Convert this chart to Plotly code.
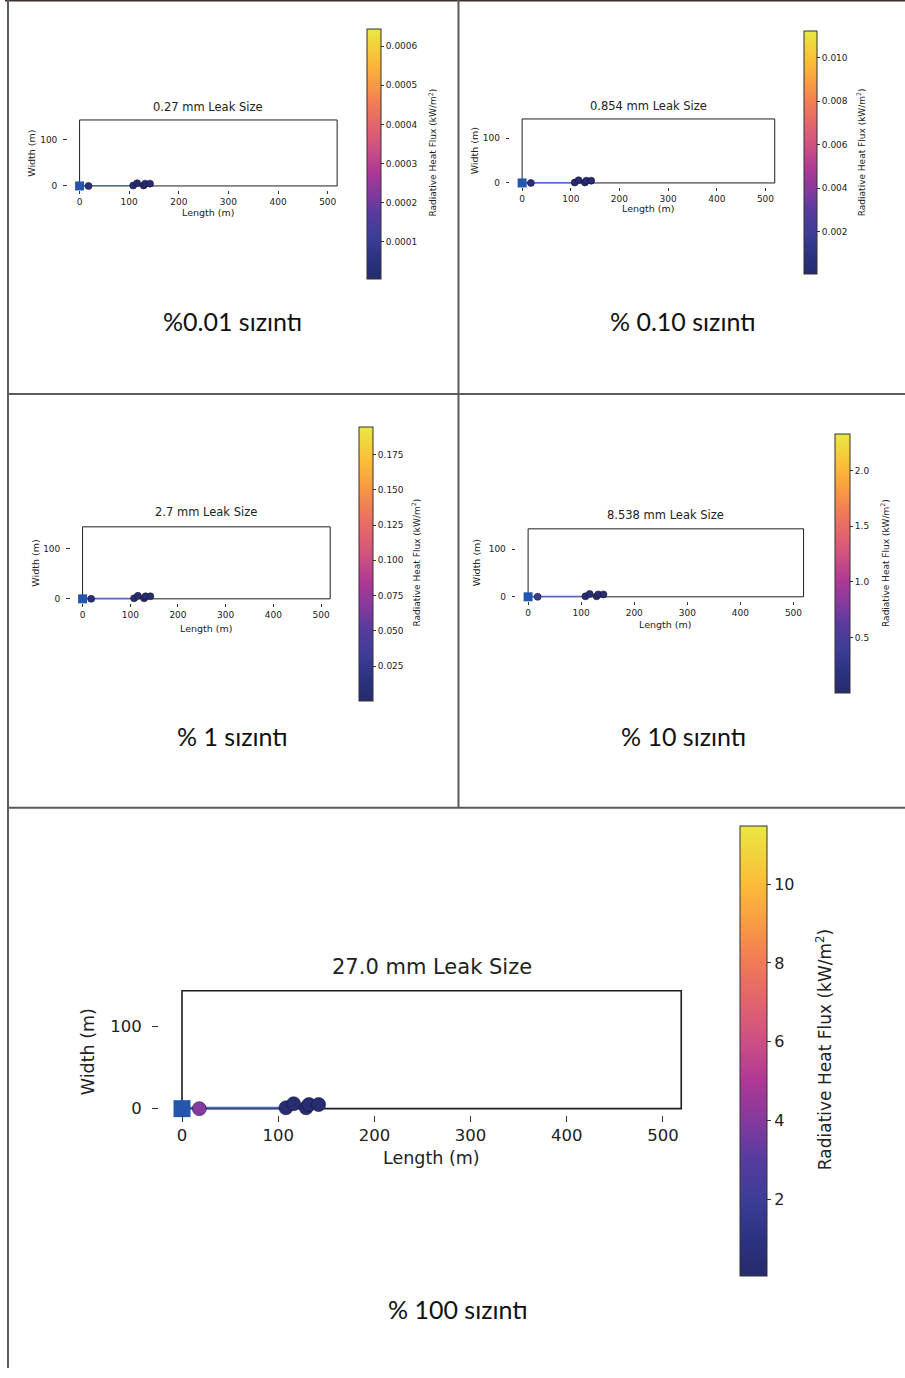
import plotly.graph_objects as go

# ---------------- data ----------------
leak_sizes = ["0.27", "0.854", "2.7", "8.538", "27.0"]
captions = ["%0.01 sızıntı", "% 0.10 sızıntı", "% 1 sızıntı", "% 10 sızıntı", "% 100 sızıntı"]

source_x = [0]
source_y = [0]
line_x = [0, 108]
line_y = [1, 1]
circle_x = [18, 108, 116, 129, 132, 142]
circle_y = [0, 1, 6, 1, 5, 5]

flux_p1 = [0.00004, 0.00001, 0.00001, 0.00001, 0.00001, 0.00001]
flux_p2 = [0.0007, 0.0002, 0.0002, 0.0002, 0.0002, 0.0002]
flux_p3 = [0.013, 0.004, 0.004, 0.004, 0.004, 0.004]
flux_p4 = [0.40, 0.05, 0.05, 0.05, 0.05, 0.05]
flux_p5 = [4.0, 0.3, 0.3, 0.3, 0.3, 0.3]
flux_values = [flux_p1, flux_p2, flux_p3, flux_p4, flux_p5]
flux_min = [0.000005, 0.00004, 0.0005, 0.002, 0.07]
flux_max = [0.000644, 0.01124, 0.1945, 2.33, 11.48]

cb_ticks_p1 = [0.0001, 0.0002, 0.0003, 0.0004, 0.0005, 0.0006]
cb_labels_p1 = ["0.0001", "0.0002", "0.0003", "0.0004", "0.0005", "0.0006"]
cb_ticks_p2 = [0.002, 0.004, 0.006, 0.008, 0.010]
cb_labels_p2 = ["0.002", "0.004", "0.006", "0.008", "0.010"]
cb_ticks_p3 = [0.025, 0.05, 0.075, 0.1, 0.125, 0.15, 0.175]
cb_labels_p3 = ["0.025", "0.050", "0.075", "0.100", "0.125", "0.150", "0.175"]
cb_ticks_p4 = [0.5, 1.0, 1.5, 2.0]
cb_labels_p4 = ["0.5", "1.0", "1.5", "2.0"]
cb_ticks_p5 = [2, 4, 6, 8, 10]
cb_labels_p5 = ["2", "4", "6", "8", "10"]
cb_ticks = [cb_ticks_p1, cb_ticks_p2, cb_ticks_p3, cb_ticks_p4, cb_ticks_p5]
cb_labels = [cb_labels_p1, cb_labels_p2, cb_labels_p3, cb_labels_p4, cb_labels_p5]

x_ticks = [0, 100, 200, 300, 400, 500]
y_ticks = [0, 100]

# ---------------- layout helpers ----------------
W, H = 905, 1378
YK = 1.007  # small vertical correction observed between target and render


def px(x):
    return x / W


def py(y):
    return max(0.0, 1 - (y * YK) / H)


colorscale = [
    [0.0, "#262b6c"], [0.08, "#2c3280"], [0.17, "#3d3d98"], [0.26, "#573b9e"],
    [0.34, "#823a9e"], [0.43, "#ad3895"], [0.52, "#cc4f84"], [0.61, "#e2646e"],
    [0.70, "#f07b56"], [0.78, "#f89a44"], [0.87, "#fbbb38"], [1.0, "#e9e842"],
]

panels = [
    dict(ax=(75, 334, 120, 186), title=(204, 107), xt=(204, 213), yt=(27, 153),
         cb=(364, 378, 29, 277), cbt=(430, 153), cap=(229, 321), big=False),
    dict(ax=(520, 774, 119, 183), title=(647, 106), xt=(647, 209), yt=(473, 151),
         cb=(803, 816, 31, 272), cbt=(861, 152), cap=(682, 321), big=False),
    dict(ax=(78, 327, 527, 599), title=(202, 512), xt=(202, 629), yt=(31, 563),
         cb=(356, 370, 427, 699), cbt=(413, 563), cap=(229, 736), big=False),
    dict(ax=(526, 803, 529, 597), title=(664, 515), xt=(664, 625), yt=(474, 563),
         cb=(835, 850, 434, 691), cbt=(885, 563), cap=(682, 736), big=False),
    dict(ax=(178, 680, 991, 1109), title=(429, 967), xt=(429, 1158), yt=(83, 1052),
         cb=(739, 766, 826, 1273), cbt=(823, 1050), cap=(456, 1309), big=True),
]

FONT = "DejaVu Sans"
CAPFONT = "Lato"
TXT = "#222222"

fig = go.Figure()
annotations = []
shapes = []
layout_axes = {}

for i, p in enumerate(panels):
    k = "" if i == 0 else str(i + 1)
    big = p["big"]
    x0, x1, y0, y1 = p["ax"]
    tick_fs = 16.5 if big else 9
    lab_fs = 17.5 if big else 9.5
    tit_fs = 21 if big else 11.5
    cbt_fs = 17 if big else 9
    msq = 17 if big else 9
    mci = 14 if big else 7
    lw = 1.6 if big else 1
    xgap = 6 if big else 4
    ygap = 24 if big else 13
    tlen = 6 if big else 3.5

    xaxis = dict(
        domain=[px(x0), px(x1)], range=[0, 519], anchor="free",
        position=py(y1 + xgap),
        tickvals=x_ticks, ticks="outside", ticklen=tlen,
        tickcolor="#333333", tickwidth=1, showgrid=False, zeroline=False,
        showline=False, tickfont=dict(family=FONT, size=tick_fs, color=TXT),
        fixedrange=True,
    )
    yaxis = dict(
        domain=[py(y1), py(y0)], range=[0, 143], anchor="free",
        position=px(x0 - ygap),
        tickvals=y_ticks, ticks="outside", ticklen=tlen,
        ticklabelstandoff=7 if big else 4,
        tickcolor="#333333", tickwidth=1, showgrid=False, zeroline=False,
        showline=False, tickfont=dict(family=FONT, size=tick_fs, color=TXT),
        fixedrange=True,
    )
    layout_axes["xaxis" + k] = xaxis
    layout_axes["yaxis" + k] = yaxis

    xa, ya = "x" + k, "y" + k

    shapes.append(dict(
        type="rect", xref=f"{xa} domain", yref=f"{ya} domain", x0=0, x1=1, y0=0, y1=1,
        line=dict(color="#1e1e1e", width=lw), fillcolor="rgba(0,0,0,0)", layer="below",
    ))

    fig.add_trace(go.Scatter(
        x=line_x, y=line_y, mode="lines", xaxis=xa, yaxis=ya,
        line=dict(color="#4a6ad2", width=2 if big else 1.2),
        showlegend=False, hoverinfo="skip", cliponaxis=False,
    ))
    fig.add_trace(go.Scatter(
        x=source_x, y=source_y, mode="markers", xaxis=xa, yaxis=ya,
        marker=dict(symbol="square", size=msq, color="#2257ad", line=dict(width=0)),
        showlegend=False, cliponaxis=False,
    ))
    cx0, cx1, cy0, cy1 = p["cb"]
    fig.add_trace(go.Scatter(
        x=circle_x, y=circle_y, mode="markers", xaxis=xa, yaxis=ya,
        marker=dict(
            size=mci, color=flux_values[i], colorscale=colorscale,
            cmin=flux_min[i], cmax=flux_max[i],
            line=dict(color="#151535", width=0.6),
            showscale=True,
            colorbar=dict(
                x=px(cx0), xanchor="left", y=py(cy0), yanchor="top",
                thickness=cx1 - cx0, thicknessmode="pixels",
                len=(cy1 - cy0) * YK, lenmode="pixels", xpad=0, ypad=0,
                outlinecolor="#333333", outlinewidth=1,
                tickvals=cb_ticks[i], ticktext=cb_labels[i],
                ticks="outside", ticklen=4 if big else 3, tickcolor="#333333",
                tickfont=dict(family=FONT, size=16 if big else 9, color=TXT),
            ),
        ),
        showlegend=False, cliponaxis=False,
    ))

    annotations.append(dict(
        x=px(p["title"][0]), y=py(p["title"][1]), xref="paper", yref="paper",
        text=f"{leak_sizes[i]} mm Leak Size", showarrow=False,
        xanchor="center", yanchor="middle",
        font=dict(family=FONT, size=tit_fs, color=TXT),
    ))
    annotations.append(dict(
        x=px(p["xt"][0]), y=py(p["xt"][1]), xref="paper", yref="paper",
        text="Length (m)", showarrow=False, xanchor="center", yanchor="middle",
        font=dict(family=FONT, size=lab_fs, color=TXT),
    ))
    annotations.append(dict(
        x=px(p["yt"][0]), y=py(p["yt"][1]), xref="paper", yref="paper",
        text="Width (m)", showarrow=False, xanchor="center", yanchor="middle",
        textangle=-90, font=dict(family=FONT, size=lab_fs, color=TXT),
    ))
    annotations.append(dict(
        x=px(p["cbt"][0]), y=py(p["cbt"][1]), xref="paper", yref="paper",
        text="Radiative Heat Flux (kW/m<sup>2</sup>)", showarrow=False,
        xanchor="center", yanchor="middle", textangle=-90,
        font=dict(family=FONT, size=cbt_fs, color=TXT),
    ))
    annotations.append(dict(
        x=px(p["cap"][0]), y=py(p["cap"][1]), xref="paper", yref="paper",
        text=captions[i], showarrow=False, xanchor="center", yanchor="middle",
        font=dict(family=CAPFONT, size=25, color="#111111"),
    ))

border = dict(color="#5a5a5a", width=2)
shapes += [
    dict(type="line", xref="paper", yref="paper", x0=0, x1=1, y0=1, y1=1,
         line=dict(color="#3b302b", width=3)),
    dict(type="line", xref="paper", yref="paper", x0=px(3), x1=px(3), y0=1, y1=0,
         line=border),
    dict(type="line", xref="paper", yref="paper", x0=px(456), x1=px(456), y0=1, y1=py(808),
         line=border),
    dict(type="line", xref="paper", yref="paper", x0=px(3), x1=1, y0=py(394), y1=py(394),
         line=border),
    dict(type="line", xref="paper", yref="paper", x0=px(3), x1=1, y0=py(808), y1=py(808),
         line=border),
]

fig.update_layout(
    width=W, height=H, autosize=False,
    margin=dict(l=0, r=0, t=0, b=0),
    paper_bgcolor="white", plot_bgcolor="rgba(0,0,0,0)",
    annotations=annotations, shapes=shapes,
    **layout_axes,
)

fig.write_html("out.html")
